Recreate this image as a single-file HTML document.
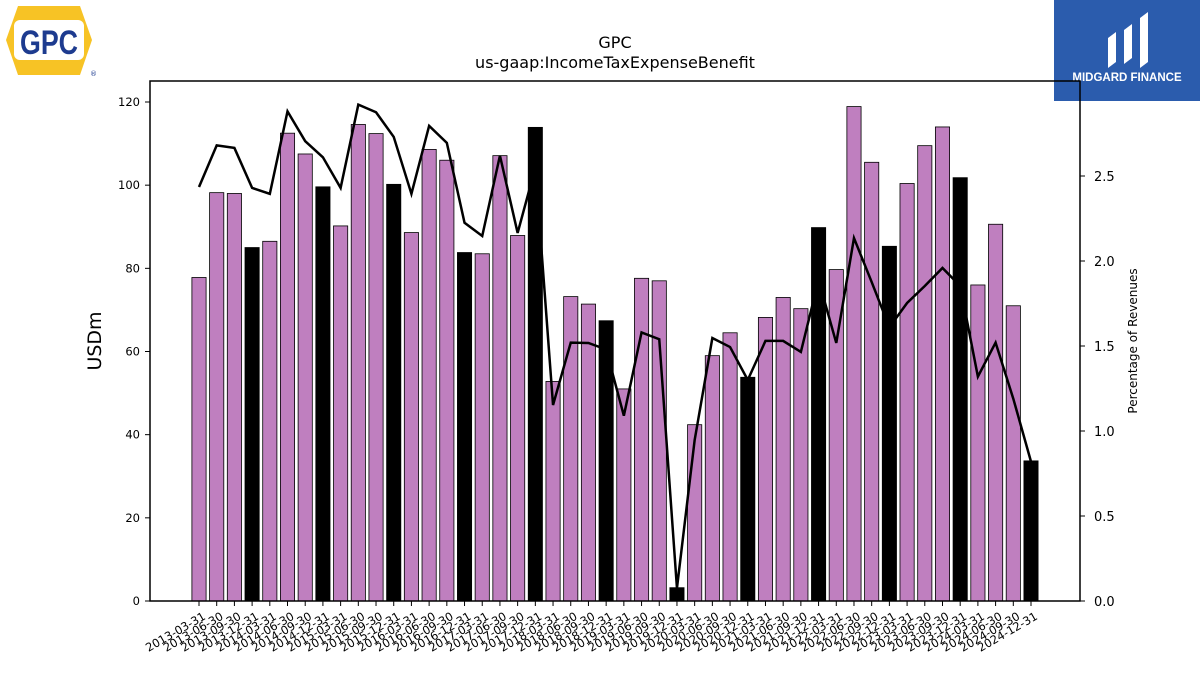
<!DOCTYPE html>
<html><head><meta charset="utf-8"><style>
body{margin:0;background:#fff;font-family:"DejaVu Sans","Liberation Sans",sans-serif;}
</style></head><body>
<svg id="chart" width="1200" height="675" xmlns="http://www.w3.org/2000/svg" font-family="DejaVu Sans, Liberation Sans, sans-serif">
<g>
<polygon points="18,6 80,6 92,40 80,75 18,75 6,40" fill="#f7c325"/>
<rect x="14" y="20" width="70" height="40" rx="6" fill="#fff"/>
<text x="49" y="54" text-anchor="middle" font-size="34" font-weight="bold" fill="#1d3b8f" font-family="Liberation Sans, sans-serif" textLength="58" lengthAdjust="spacingAndGlyphs">GPC</text>
<text x="90" y="76" font-size="7" fill="#1d3b8f">®</text>
</g>
<g>
<rect x="1054" y="0" width="146" height="101" fill="#2b5cad"/>
<path d="M1108 68 L1108 38 L1116 32 L1116 62 Z M1124 64 L1124 30 L1132 24 L1132 58 Z M1140 68 L1140 18 L1148 12 L1148 62 Z" fill="#fff"/>
<text x="1127" y="81" text-anchor="middle" font-size="11.5" font-weight="bold" fill="#fff" font-family="Liberation Sans, sans-serif">MIDGARD FINANCE</text>
</g>
<text x="615" y="48" text-anchor="middle" font-size="16">GPC</text>
<text x="615" y="68" text-anchor="middle" font-size="16">us-gaap:IncomeTaxExpenseBenefit</text>
<text transform="translate(101,341) rotate(-90)" text-anchor="middle" font-size="19">USDm</text>
<text transform="translate(1137,341) rotate(-90)" text-anchor="middle" font-size="12">Percentage of Revenues</text>
<g id="bars"></g><g id="xt"></g><g id="yl"></g><g id="yr"></g>
<path id="line" fill="none" stroke="#000" stroke-width="2.5"/>
<rect x="150" y="81" width="930" height="520" fill="none" stroke="#000" stroke-width="1.5"/>
</svg>
<script>
const values=[77.8,98.2,98,85,86.5,112.5,107.5,99.6,90.2,114.6,112.4,100.2,88.6,108.6,106,83.8,83.5,107.1,87.9,113.9,52.8,73.2,71.4,67.4,51,77.6,77,3.2,42.4,59,64.5,53.8,68.2,73,70.3,89.8,79.7,118.9,105.5,85.3,100.4,109.5,114,101.8,76,90.6,71,33.7];
const pct=[2.435,2.68,2.665,2.43,2.395,2.88,2.705,2.61,2.43,2.92,2.875,2.73,2.395,2.795,2.695,2.225,2.147,2.62,2.165,2.55,1.153,1.52,1.518,1.48,1.09,1.58,1.54,0.076,0.947,1.547,1.494,1.3,1.53,1.53,1.465,1.888,1.518,2.135,1.876,1.61,1.753,1.853,1.959,1.853,1.32,1.52,1.19,0.82];
const leftTicks=[0,20,40,60,80,100,120];
const rightTicks=[0.0,0.5,1.0,1.5,2.0,2.5];
const quarters=["03-31","06-30","09-30","12-31"];
const cats=[];for(let y=2013;y<=2024;y++)for(const q of quarters)cats.push(y+"-"+q);
const NS="http://www.w3.org/2000/svg";
const x0=199,dx=(1031-199)/47,bw=14.2;
const X=i=>x0+i*dx, YL=v=>601-v*(601-102)/120, YR=v=>601-v*170;
function mk(t,a,p){const e=document.createElementNS(NS,t);for(const k in a)e.setAttribute(k,a[k]);document.getElementById(p).appendChild(e);return e;}
values.forEach((v,i)=>{const q4=cats[i].endsWith("12-31");
const r=mk("rect",{x:X(i)-bw/2,y:YL(v),width:bw,height:601-YL(v),fill:q4?"#000":"#bf7fbf",stroke:"#000","stroke-width":0.8},"bars");


mk("line",{x1:X(i),x2:X(i),y1:601,y2:606,stroke:"#000"},"xt");
const t=mk("text",{transform:`translate(${X(i)+3},${611}) rotate(-30)`,"text-anchor":"end","font-size":11.5,"dominant-baseline":"hanging"},"xt");t.textContent=cats[i];

});
leftTicks.forEach(v=>{mk("line",{x1:145,x2:150,y1:YL(v),y2:YL(v),stroke:"#000"},"yl");
const t=mk("text",{x:140,y:YL(v)+4,"text-anchor":"end","font-size":11.5},"yl");t.textContent=v;

});
rightTicks.forEach(v=>{mk("line",{x1:1080,x2:1085,y1:YR(v),y2:YR(v),stroke:"#000"},"yr");
const t=mk("text",{x:1094,y:YR(v)+5,"font-size":13},"yr");t.textContent=v.toFixed(1);

});
document.getElementById("line").setAttribute("d",pct.map((v,i)=>(i?"L":"M")+X(i)+" "+YR(v)).join(" "));
</script>
</body></html>
